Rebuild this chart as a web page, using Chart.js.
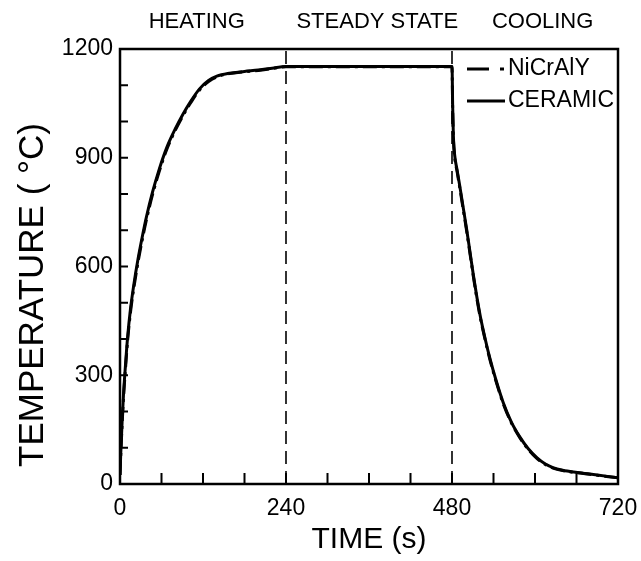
<!DOCTYPE html>
<html>
<head>
<meta charset="utf-8">
<script src="https://cdn.jsdelivr.net/npm/chart.js@4.4.0/dist/chart.umd.min.js"></script>
<style>
  body { margin: 0; background: #fff; }
  #wrap { width: 641px; height: 561px; }
</style>
</head>
<body>
<div id="wrap"><canvas id="chart" width="641" height="561"></canvas></div>
<script>
// readings (time in s, temperature in deg C)
const timeCeramic = [0, 1, 3, 5, 8, 11, 15, 20, 26, 32, 38, 47, 57, 68, 80, 91, 102, 115, 128, 140, 158, 180, 200, 220, 240,
  300, 360, 420, 480, 481, 482, 484, 487, 491, 496, 501, 506, 511, 516, 521, 528, 535, 544, 554, 566, 578, 590, 603, 615, 626, 640, 661, 690, 720];
const tempCeramic = [25, 80, 170, 245, 330, 405, 480, 550, 620, 680, 735, 805, 870, 930, 980, 1020, 1055, 1090, 1113, 1125, 1133, 1138, 1142, 1147, 1152,
  1152, 1152, 1152, 1152, 1040, 960, 905, 870, 825, 765, 705, 640, 575, 515, 462, 400, 345, 284, 225, 170, 130, 98, 72, 55, 45, 38, 32, 25, 17];

const timeNiCrAlY = [0, 1, 3, 5, 8, 11, 15, 20, 26, 32, 38, 47, 57, 68, 80, 91, 102, 115, 128, 140, 158, 180, 200, 220, 240,
  300, 360, 420, 480, 481, 482, 484, 487, 491, 496, 501, 506, 511, 516, 521, 528, 535, 544, 554, 566, 578, 590, 603, 615, 626, 640, 661, 690, 720];
const tempNiCrAlY = [25, 75, 162, 236, 320, 396, 471, 541, 611, 672, 727, 798, 864, 925, 976, 1016, 1051, 1087, 1110, 1123, 1132, 1137, 1141, 1146, 1151,
  1151, 1151, 1151, 1151, 1030, 955, 900, 866, 820, 760, 700, 636, 571, 511, 458, 397, 342, 281, 222, 168, 128, 96, 70, 54, 44, 37, 31, 24, 17];

const phaseTimes = [240, 480];
const phaseLabels = ['HEATING', 'STEADY STATE', 'COOLING'];
const xTicks = [0, 240, 480, 720];
const yTicks = [0, 300, 600, 900, 1200];

const FONT = '"Liberation Sans", Arial, Helvetica, sans-serif';
Chart.defaults.color = '#000';
Chart.defaults.font.family = FONT;

const toPoints = (xs, ys) => xs.map((x, i) => ({ x: x, y: ys[i] }));

const phaseSets = phaseTimes.map(t => ({
  label: 'phase',
  data: [{ x: t, y: 0 }, { x: t, y: 1200 }],
  borderColor: '#000',
  borderWidth: 1.6,
  borderDash: [13, 7],
  pointRadius: 0
}));

const extras = {
  id: 'extras',
  afterDatasetsDraw(chart) {
    const { ctx, chartArea: a, scales: { x, y } } = chart;
    ctx.save();
    ctx.strokeStyle = '#000';
    ctx.lineWidth = 2.5;
    ctx.strokeRect(a.left, a.top, a.right - a.left, a.bottom - a.top);

    // inward minor ticks
    ctx.lineWidth = 2;
    ctx.beginPath();
    for (let t = 60; t < 720; t += 60) {
      const px = x.getPixelForValue(t);
      ctx.moveTo(px, a.bottom);
      ctx.lineTo(px, a.bottom - 11);
    }
    for (let v = 100; v < 1200; v += 100) {
      const py = y.getPixelForValue(v);
      ctx.moveTo(a.left, py);
      ctx.lineTo(a.left + 8, py);
    }
    ctx.stroke();

    // phase labels above the frame
    ctx.fillStyle = '#000';
    ctx.font = '22px ' + FONT;
    ctx.textAlign = 'center';
    ctx.textBaseline = 'middle';
    const centres = [111, 372, 611];
    phaseLabels.forEach((s, i) => ctx.fillText(s, x.getPixelForValue(centres[i]), 22));

    // y axis title
    ctx.save();
    ctx.translate(33, 295);
    ctx.rotate(-Math.PI / 2);
    ctx.font = '35px ' + FONT;
    ctx.fillText('TEMPERATURE ( °C)', 0, 0);
    ctx.restore();

    // legend
    ctx.textAlign = 'left';
    ctx.font = '23px ' + FONT;
    ctx.lineWidth = 3;
    ctx.beginPath();
    ctx.moveTo(467, 69); ctx.lineTo(489, 69);
    ctx.moveTo(500, 69); ctx.lineTo(504, 69);
    ctx.moveTo(467, 101); ctx.lineTo(505, 101);
    ctx.stroke();
    ctx.fillText('NiCrAlY', 508, 69);
    ctx.fillText('CERAMIC', 508, 101);
    ctx.restore();
  }
};

new Chart(document.getElementById('chart').getContext('2d'), {
  type: 'line',
  data: {
    datasets: [
      {
        label: 'NiCrAlY',
        data: toPoints(timeNiCrAlY, tempNiCrAlY),
        borderColor: '#000',
        borderWidth: 3,
        borderDash: [14, 5, 3, 5],
        pointRadius: 0,
        cubicInterpolationMode: 'monotone'
      },
      {
        label: 'CERAMIC',
        data: toPoints(timeCeramic, tempCeramic),
        borderColor: '#000',
        borderWidth: 3,
        pointRadius: 0,
        cubicInterpolationMode: 'monotone'
      },
      ...phaseSets
    ]
  },
  options: {
    responsive: false,
    animation: false,
    layout: { padding: { top: 49, right: 23, left: 0, bottom: 0 } },
    plugins: { legend: { display: false }, tooltip: { enabled: false } },
    scales: {
      x: {
        type: 'linear',
        min: 0,
        max: 720,
        afterBuildTicks: s => { s.ticks = xTicks.map(v => ({ value: v })); },
        afterFit: s => { s.height = 77; s.paddingLeft = 0; s.paddingRight = 0; },
        ticks: { font: { size: 23 }, padding: 11, maxRotation: 0, callback: v => String(v) },
        grid: { display: false, drawTicks: false },
        border: { display: false },
        title: { display: true, text: 'TIME (s)', font: { size: 30 }, padding: { bottom: 3 } }
      },
      y: {
        min: 0,
        max: 1200,
        afterBuildTicks: s => { s.ticks = yTicks.map(v => ({ value: v })); },
        afterFit: s => { s.width = 120; s.paddingTop = 0; s.paddingBottom = 0; },
        ticks: { font: { size: 23 }, padding: 7, callback: v => String(v) },
        grid: { display: false, drawTicks: false },
        border: { display: false },
        title: { display: false }
      }
    }
  },
  plugins: [extras]
});
</script>
</body>
</html>
